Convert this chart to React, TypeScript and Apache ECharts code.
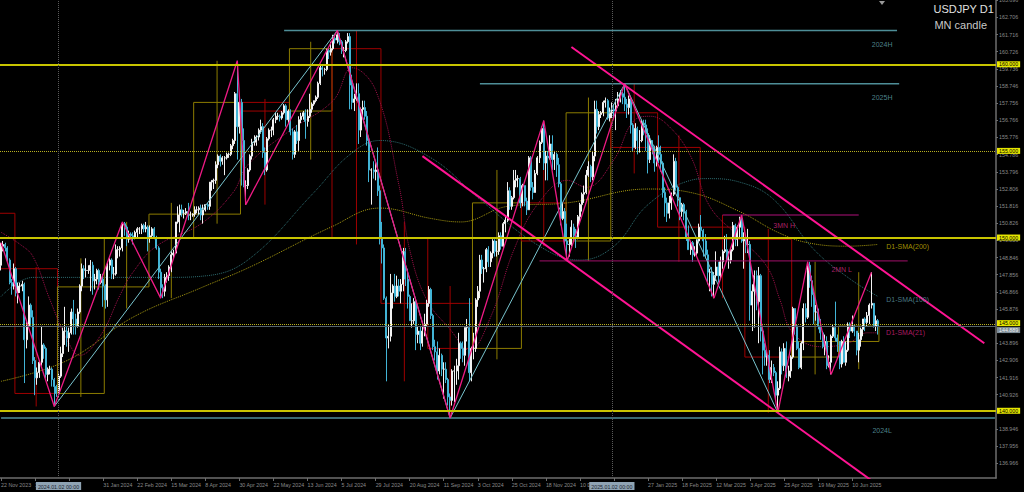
import React, { useEffect, useRef } from "react";
import * as echarts from "echarts";

// ---------- daily bars [open, high, low, close] per calendar month ----------
const nov23 = [
  [148.4,149.7,148.1,149.5],[149.5,149.8,149.2,149.6],[149.6,149.7,149.2,149.4],[149.4,149.5,148.6,148.7],
  [148.7,148.8,147.3,147.4],[147.4,147.6,146.7,147.2],[147.2,148.5,147.0,148.2]];
const dec23 = [
  [148.2,148.3,146.6,146.8],[146.8,147.4,146.2,147.2],[147.2,147.4,146.8,147.2],[147.2,147.5,146.9,147.3],
  [147.3,147.4,141.6,144.1],[144.1,145.2,143.6,144.9],[144.9,146.6,144.8,146.1],[146.1,146.2,144.9,145.4],
  [145.4,145.8,142.7,142.9],[142.9,143.1,140.9,141.9],[141.9,142.5,141.5,142.2],[142.2,142.9,141.9,142.8],
  [142.8,144.9,142.6,143.8],[143.8,143.9,143.0,143.6],[143.6,143.7,141.9,142.1],[142.1,142.5,141.7,142.4],
  [142.4,142.6,142.1,142.4],[142.4,142.5,141.4,141.8],[141.8,141.9,140.3,141.4],[141.4,141.5,140.8,141.0]];
const jan24 = [
  [141.0,142.2,140.8,142.0],[142.0,143.7,141.9,143.3],[143.3,144.8,143.1,144.6],[144.6,146.0,143.8,144.6],
  [144.6,144.9,143.7,144.2],[144.2,144.8,143.4,144.5],[144.5,145.9,144.4,145.7],[145.7,146.4,144.4,145.3],
  [145.3,145.6,144.4,144.9],[144.9,145.9,144.8,145.7],[145.7,147.3,145.6,147.2],[147.2,148.5,146.9,148.2],
  [148.2,148.4,147.6,148.1],[148.1,148.8,147.7,148.1],[148.1,148.4,147.9,148.1],[148.1,148.7,146.9,148.4],
  [148.4,148.6,146.7,147.5],[147.5,147.9,147.0,147.6],[147.6,148.2,147.3,148.1],[148.1,148.2,147.0,147.4],
  [147.4,147.9,147.3,147.6],[147.6,147.9,146.0,147.2]];
const feb24 = [
  [147.2,147.3,145.9,146.4],[146.4,148.6,146.0,148.4],[148.4,148.8,148.1,148.7],[148.7,148.8,147.6,147.9],
  [147.9,148.3,147.6,147.9],[147.9,149.6,147.8,149.3],[149.3,149.5,148.8,149.3],[149.3,149.5,148.9,149.4],
  [149.4,150.9,149.2,150.8],[150.8,150.9,150.1,150.6],[150.6,150.7,149.5,149.9],[149.9,150.4,149.7,150.2],
  [150.2,150.3,149.9,150.1],[150.1,150.3,149.6,150.0],[150.0,150.4,149.9,150.3],[150.3,150.6,150.0,150.5],
  [150.5,150.6,150.2,150.5],[150.5,150.8,150.2,150.7],[150.7,150.8,150.3,150.5],[150.5,150.9,150.3,150.6],
  [150.6,150.7,149.2,150.0]];
const mar24 = [
  [150.0,150.7,149.7,150.1],[150.1,150.6,150.0,150.5],[150.5,150.6,149.9,150.0],[150.0,150.1,149.3,149.4],
  [149.4,149.5,147.6,148.0],[148.0,148.2,146.5,147.1],[147.1,147.3,146.5,146.9],[146.9,147.9,146.6,147.7],
  [147.7,148.0,147.4,147.8],[147.8,148.4,147.5,148.3],[148.3,149.2,148.0,149.0],[149.0,149.3,148.8,149.1],
  [149.1,150.9,149.1,150.9],[150.9,151.8,150.8,151.3],[151.3,151.9,150.3,151.6],[151.6,151.9,151.2,151.4],
  [151.4,151.6,151.1,151.4],[151.4,151.7,151.3,151.5],[151.5,152.0,151.0,151.3],[151.3,151.5,151.0,151.3],
  [151.3,151.4,151.2,151.35]];
const apr24 = [
  [151.35,151.8,151.2,151.6],[151.6,151.8,151.4,151.6],[151.6,151.8,151.3,151.7],[151.7,151.9,151.0,151.3],
  [151.3,151.9,150.8,151.6],[151.6,151.9,151.5,151.9],[151.9,152.0,151.6,151.8],[151.8,153.2,151.6,153.2],
  [153.2,153.3,152.7,153.3],[153.3,153.4,152.8,153.3],[153.3,154.4,153.1,154.2],[154.2,154.8,154.0,154.7],
  [154.7,154.8,154.1,154.4],[154.4,154.7,154.2,154.6],[154.6,154.7,153.6,154.6],[154.6,154.9,154.5,154.8],
  [154.8,154.9,154.6,154.8],[154.8,155.4,154.7,155.3],[155.3,155.7,155.1,155.6],[155.6,158.4,155.4,158.3],
  [158.3,160.2,154.5,156.4],[156.4,157.9,156.0,157.8]];
const may24 = [
  [157.8,158.0,153.0,155.6],[155.6,156.3,152.9,153.0],[153.0,153.3,151.9,153.0],[153.0,154.0,152.8,153.9],
  [153.9,154.8,153.8,154.7],[154.7,155.7,154.5,155.5],[155.5,155.9,155.3,155.5],[155.5,155.9,155.3,155.8],
  [155.8,156.3,155.6,156.2],[156.2,156.8,156.0,156.4],[156.4,156.6,154.6,154.9],[154.9,155.2,153.6,153.9],
  [153.9,155.8,153.8,155.7],[155.7,156.3,155.6,156.2],[156.2,156.4,155.8,156.2],[156.2,156.9,155.9,156.8],
  [156.8,157.2,156.6,157.0],[157.0,157.2,156.8,157.0],[157.0,157.1,156.7,156.9],[156.9,157.3,156.8,157.2],
  [157.2,157.7,157.1,157.6],[157.6,157.7,156.4,156.8],[156.8,157.4,156.6,157.3]];
const jun24 = [
  [157.3,157.4,155.9,156.1],[156.1,156.3,154.5,154.8],[154.8,156.2,154.6,156.1],[156.1,156.5,155.4,155.6],
  [155.6,157.0,155.0,156.8],[156.8,157.2,156.6,157.0],[157.0,157.3,156.8,157.2],[157.2,157.4,155.7,156.7],
  [156.7,157.4,156.4,157.0],[157.0,158.3,156.9,157.4],[157.4,157.8,157.2,157.7],[157.7,157.9,157.6,157.9],
  [157.9,158.2,157.8,158.1],[158.1,159.0,158.0,158.9],[158.9,159.9,158.8,159.8],[159.8,159.9,159.3,159.7],
  [159.7,159.8,159.4,159.7],[159.7,160.9,159.6,160.8],[160.8,160.9,160.3,160.7],[160.7,161.3,160.5,160.9]];
const jul24 = [
  [160.9,161.7,160.8,161.5],[161.5,161.7,161.2,161.4],[161.4,161.95,161.2,161.7],[161.7,161.8,161.1,161.3],
  [161.3,161.4,160.6,160.8],[160.8,161.0,160.4,160.8],[160.8,161.4,160.7,161.3],[161.3,161.8,161.2,161.6],
  [161.6,161.8,157.4,158.8],[158.8,159.4,157.4,157.8],[157.8,158.3,157.3,158.0],[158.0,158.9,157.9,158.3],
  [158.3,158.9,155.4,156.2],[156.2,157.5,155.8,157.4],[157.4,157.9,157.0,157.5],[157.5,157.9,156.8,157.0],
  [157.0,157.3,155.3,155.6],[155.6,155.7,153.2,153.9],[153.9,154.0,151.9,153.9],[153.9,154.4,153.4,153.8],
  [153.8,154.3,153.3,153.9],[153.9,155.2,152.4,152.7],[152.7,153.0,149.6,150.0]];
const aug24 = [
  [150.0,150.9,148.5,149.4],[149.4,149.6,146.4,146.5],[146.5,146.6,141.7,144.2],[144.2,145.0,143.6,144.3],
  [144.3,147.9,144.0,146.8],[146.8,147.3,145.9,147.2],[147.2,147.9,146.3,146.6],[146.6,147.8,146.5,147.2],
  [147.2,147.6,146.6,146.9],[146.9,147.6,146.2,147.3],[147.3,149.4,146.9,149.2],[149.2,149.4,147.2,147.6],
  [147.6,148.2,145.9,146.6],[146.6,146.7,145.2,145.2],[145.2,146.2,144.8,145.2],[145.2,146.5,145.0,146.3],
  [146.3,146.5,143.5,144.4],[144.4,144.9,143.9,144.6],[144.6,144.9,143.5,143.9],[143.9,144.9,143.7,144.6],
  [144.6,145.6,144.3,145.0],[145.0,146.4,144.9,146.2]];
const sep24 = [
  [146.2,147.2,146.0,147.0],[147.0,147.1,145.3,145.5],[145.5,145.6,143.5,143.7],[143.7,144.1,142.9,143.4],
  [143.4,144.0,141.8,142.3],[142.3,143.6,142.1,143.2],[143.2,143.3,142.0,142.4],[142.4,142.8,140.7,142.4],
  [142.4,142.8,141.6,141.8],[141.8,141.9,140.3,140.8],[140.8,141.0,139.6,140.6],[140.6,142.4,140.3,142.3],
  [142.3,142.6,140.5,142.3],[142.3,143.0,141.5,142.6],[142.6,144.5,141.8,143.9],[143.9,144.0,143.0,143.6],
  [143.6,144.0,142.8,143.2],[143.2,144.8,142.6,144.8],[144.8,145.3,144.0,144.8],[144.8,146.5,141.7,142.2],
  [142.2,143.7,141.7,143.6]];
const oct24 = [
  [143.6,144.5,142.97,143.6],[143.6,146.5,143.4,146.4],[146.4,147.2,146.0,146.9],[146.9,149.0,146.5,148.7],
  [148.7,149.0,147.9,148.2],[148.2,148.3,147.4,148.2],[148.2,149.4,148.0,149.3],[149.3,149.5,148.3,148.6],
  [148.6,149.2,148.3,149.1],[149.1,149.9,148.8,149.8],[149.8,149.9,148.9,149.2],[149.2,149.8,148.9,149.2],
  [149.2,150.3,149.0,150.1],[150.1,150.3,149.3,149.5],[149.5,150.9,149.4,150.8],[150.8,151.2,150.3,151.0],
  [151.0,153.2,150.9,152.7],[152.7,152.9,151.6,151.8],[151.8,152.4,151.6,152.3],[152.3,153.9,152.2,153.3],
  [153.3,153.9,152.9,153.4],[153.4,153.6,152.9,153.4],[153.4,153.5,151.7,152.0]];
const nov24 = [
  [152.0,153.1,151.8,153.0],[153.0,153.0,151.8,152.1],[152.1,152.3,151.3,151.6],[151.6,154.7,151.6,154.6],
  [154.6,154.7,152.7,152.9],[152.9,153.2,152.2,152.6],[152.6,153.9,152.6,153.7],[153.7,154.7,153.6,154.6],
  [154.6,155.6,154.3,155.5],[155.5,156.4,155.4,156.3],[156.3,156.75,153.9,154.3],[154.3,155.0,153.3,154.7],
  [154.7,155.0,153.3,154.6],[154.6,155.9,154.5,155.4],[155.4,155.9,153.9,154.5],[154.5,155.0,153.9,154.8],
  [154.8,154.9,153.5,154.2],[154.2,154.6,152.9,153.1],[153.1,153.2,150.7,151.1],[151.1,152.0,151.0,151.5],
  [151.5,151.7,149.5,149.8]];
const dec24 = [
  [149.8,150.8,148.65,149.6],[149.6,150.0,148.9,149.6],[149.6,151.0,149.5,150.6],[150.6,150.8,149.8,150.1],
  [150.1,150.5,149.4,150.0],[150.0,151.3,149.9,151.2],[151.2,152.0,150.9,151.9],[151.9,152.6,151.5,152.5],
  [152.5,153.0,152.0,152.6],[152.6,153.9,152.5,153.6],[153.6,154.4,153.5,154.1],[154.1,154.2,153.2,153.5],
  [153.5,155.0,153.3,154.7],[154.7,157.9,154.4,157.4],[157.4,157.9,156.0,156.4],[156.4,157.3,156.2,157.1],
  [157.1,157.3,156.9,157.2],[157.2,157.9,157.0,157.8],[157.8,158.08,157.5,157.9],[157.9,158.0,156.8,156.9],
  [156.9,157.5,156.7,157.2]];
const jan25 = [
  [157.2,157.8,156.9,157.4],[157.4,157.7,156.9,157.3],[157.3,158.0,156.2,157.6],[157.6,158.4,157.5,158.0],
  [158.0,158.5,157.8,158.3],[158.3,158.4,157.7,158.1],[158.1,158.87,157.3,157.7],[157.7,158.0,156.9,157.5],
  [157.5,158.2,157.1,158.0],[158.0,158.1,156.0,156.5],[156.5,156.6,155.0,155.2],[155.2,156.6,155.1,156.3],
  [156.3,156.4,154.8,155.6],[155.6,156.2,154.9,155.6],[155.6,156.8,155.5,156.6],[156.6,156.8,155.9,156.5],
  [156.5,156.8,155.0,156.0],[156.0,156.3,153.7,154.5],[154.5,155.9,154.3,155.6],[155.6,155.6,154.8,155.2],
  [155.2,155.3,153.8,154.3],[154.3,155.3,154.1,155.2]];
const feb25 = [
  [155.2,155.9,154.3,154.8],[154.8,155.3,153.8,154.3],[154.3,154.4,152.3,152.6],[152.6,152.9,151.2,152.0],
  [152.0,152.3,150.9,151.4],[151.4,152.4,151.1,152.0],[152.0,152.6,151.6,152.5],[152.5,154.8,152.4,154.4],
  [154.4,154.6,152.7,152.9],[152.9,153.0,151.8,152.3],[152.3,152.3,151.0,151.5],[151.5,152.0,151.2,151.9],
  [151.9,152.0,151.0,151.5],[151.5,151.6,149.8,150.0],[150.0,150.7,149.3,149.3],[149.3,149.8,149.0,149.7],
  [149.7,149.8,148.6,149.0],[149.0,149.5,148.9,149.1],[149.1,149.9,148.9,149.8],[149.8,150.8,149.7,150.6]];
const mar25 = [
  [150.6,151.3,150.0,150.4],[150.4,150.5,148.9,149.8],[149.8,150.2,148.8,149.0],[149.0,149.3,147.3,148.0],
  [148.0,148.2,146.9,148.0],[148.0,148.3,146.6,147.3],[147.3,148.0,146.5,147.8],[147.8,149.2,147.5,148.3],
  [148.3,148.6,147.4,147.8],[147.8,148.9,147.6,148.6],[148.6,149.3,148.2,149.2],[149.2,150.1,149.1,149.3],
  [149.3,150.2,148.6,148.7],[148.7,149.2,148.2,148.7],[148.7,149.4,148.5,149.3],[149.3,150.9,149.2,150.7],
  [150.7,150.8,149.5,149.9],[149.9,150.7,149.5,150.6],[150.6,151.2,150.0,151.1],[151.1,151.3,149.7,149.8],
  [149.8,150.3,148.2,149.9]];
const apr25 = [
  [149.9,150.0,149.1,149.6],[149.6,150.5,149.1,149.6],[149.6,149.8,145.2,146.1],[146.1,147.3,144.6,146.9],
  [146.9,148.1,144.8,147.8],[147.8,148.1,145.8,146.3],[146.3,148.3,143.9,147.8],[147.8,147.9,144.0,144.6],
  [144.6,144.7,142.1,143.5],[143.5,143.9,142.6,143.1],[143.1,143.5,142.6,143.2],[143.2,143.5,141.6,141.8],
  [141.8,142.9,141.6,142.5],[142.5,142.7,142.0,142.2],[142.2,142.3,140.6,140.9],[140.9,141.7,139.89,141.3],
  [141.3,143.7,141.2,143.4],[143.4,143.6,142.1,142.6],[142.6,143.9,142.3,143.6],[143.6,144.0,141.9,142.0],
  [142.0,142.6,141.7,142.3],[142.3,143.2,141.9,143.1]];
const may25 = [
  [143.1,146.0,143.0,145.9],[145.9,145.9,144.4,144.9],[144.9,145.0,143.5,143.6],[143.6,144.0,142.4,142.5],
  [142.5,144.0,142.4,143.9],[143.9,146.2,143.5,145.9],[145.9,146.2,145.1,145.4],[145.4,148.6,145.3,148.4],
  [148.4,148.6,147.1,147.5],[147.5,147.8,146.0,146.7],[146.7,146.9,145.0,145.7],[145.7,146.1,145.2,145.7],
  [145.7,145.9,144.7,144.9],[144.9,145.3,144.1,144.5],[144.5,144.6,143.6,143.7],[143.7,144.4,143.2,144.0],
  [144.0,144.3,142.4,142.6],[142.6,143.2,142.5,142.8],[142.8,144.4,142.1,144.3],[144.3,145.0,144.2,144.8],
  [144.8,146.3,144.0,144.2],[144.2,144.4,143.4,144.0]];
const jun25 = [
  [144.0,144.0,142.4,142.7],[142.7,144.1,142.5,144.0],[144.0,144.3,142.8,142.8],[142.8,144.0,142.6,143.5],
  [143.5,145.1,143.4,144.9],[144.9,145.1,144.2,144.6],[144.6,145.5,144.5,144.9],[144.9,145.0,144.3,144.6],
  [144.6,144.6,143.2,143.5],[143.5,144.5,142.8,144.1],[144.1,144.8,143.7,144.7],[144.7,145.3,144.3,145.3],
  [145.3,145.4,144.6,145.1],[145.1,145.7,144.9,145.5],[145.5,146.2,145.0,146.1],[146.1,148.0,145.9,146.2],
  [146.2,146.2,144.8,144.9],[144.9,145.5,144.6,145.2],[145.2,145.3,144.4,144.889]];

const monthBars = [nov23, dec23, jan24, feb24, mar24, apr24, may24, jun24, jul24, aug24, sep24, oct24,
  nov24, dec24, jan25, feb25, mar25, apr25, may25, jun25];

// monthly candles (MN) [open, high, low, close]
const mnCandles = [
  [151.4,151.9,146.7,148.2],[148.2,148.3,140.25,141.0],[141.0,148.8,140.8,147.15],[147.15,150.9,145.9,150.0],
  [150.0,152.0,146.5,151.35],[151.35,160.2,150.8,157.8],[157.8,158.0,151.9,157.3],[157.3,161.3,154.5,160.9],
  [160.9,161.95,149.6,150.0],[150.0,150.9,141.7,146.2],[146.2,147.2,139.58,143.6],[143.6,153.9,142.97,152.0],
  [152.0,156.75,149.5,149.8],[149.8,158.08,148.65,157.2],[157.2,158.87,153.7,155.2],[155.2,155.9,148.6,150.6],
  [150.6,151.3,146.5,149.9],[149.9,150.5,139.89,143.1],[143.1,148.6,142.1,144.0],[144.0,148.0,142.4,144.889]];
const firstMonthHiddenBars = 15; // Nov 2023 trading days before the first visible bar

// moving averages [bar index, price]
const sma200 = [[0,141.7],[31,142.9],[62,145.4],[94,147.1],[117,148.3],[155,150.6],[178,151.7],[202,151.1],
  [216,150.9],[238,151.8],[266,152.0],[304,152.8],[324,152.6],[347,151.5],[365,150.3],[379,149.7],[398,149.5],[412,149.6]];
const sma100 = [[0,146.6],[15,147.7],[38,147.7],[78,147.7],[97,147.8],[117,148.8],[147,152.6],[164,154.8],
  [178,155.6],[202,154.6],[225,152.2],[253,149.5],[272,148.7],[288,149.5],[304,151.9],[324,153.3],[332,153.4],
  [347,153.2],[363,152.2],[382,149.3],[399,147.6],[412,146.6]];
const sma21 = [[0,150.3],[9,149.6],[15,148.9],[23,146.4],[31,144.1],[37,143.2],[47,144.4],[56,146.7],[62,148.0],
  [73,149.5],[94,150.8],[109,152.6],[116,154.2],[136,156.2],[156,157.9],[165,159.8],[176,158.5],[187,153.0],
  [192,149.3],[200,146.4],[211,144.7],[220,143.5],[230,145.4],[241,149.3],[252,151.9],[266,153.3],[275,152.9],
  [288,154.5],[297,156.7],[305,157.0],[314,156.4],[324,154.7],[333,151.8],[347,150.0],[360,148.3],[366,146.4],
  [372,144.5],[385,143.7],[398,143.9],[407,144.5],[412,144.5]];

// zigzags and drawn objects [bar index, price]
const pinkZig = [[0,149.7],[25,140.25],[57,150.9],[75,146.5],[111,160.2],[115,151.9],[158,161.95],[211,139.58],
  [255,156.75],[266,148.65],[293,158.87],[335,146.5],[348,151.3],[365,139.89],[379,148.6],[390,142.1],[409,148.0]];
const cyanZig = [[25,140.25],[158,161.95],[211,139.58],[293,158.87],[365,139.89]];
const channelUpper = [[268,161.0],[462,143.9]];
const channelLower = [[198,154.7],[411,135.8]];
const line2024H = [[133,161.95],[421,161.95]];
const line2025H = [[225,158.87],[422,158.87]];
const line2024L = [[0,139.58],[467,139.58]];
const line3MNH = [[339,151.3],[403,151.3]];
const line2MNL = [[253,148.65],[426,148.65]];

// price-scale labels (those fully covered by the 144.889 / 140.000 boxes are not drawn)
const yTicks = [163.696,162.706,161.716,160.726,159.736,158.746,157.756,156.766,155.776,154.786,153.796,152.806,
  151.816,150.826,149.836,148.846,147.856,146.866,145.876,143.896,142.906,141.916,140.926,
  138.946,137.956,136.966];
const levels = [160, 155, 150, 145, 140];
const currentPrice = 144.889;
const separators = ["2024-01-02", "2025-01-02"];

const textMarks = [
  { text: "2024H", x: 414, y: 161.17, color: "#62A4AE" },
  { text: "2025H", x: 414, y: 158.11, color: "#62A4AE" },
  { text: "2024L", x: 414, y: 138.89, color: "#62A4AE" },
  { text: "D1-SMA(200)", x: 426, y: 149.51, color: "#C8B400" },
  { text: "D1-SMA(100)", x: 426, y: 146.45, color: "#5E98A4" },
  { text: "D1-SMA(21)", x: 425, y: 144.49, color: "#D4207E" },
  { text: "3MN H", x: 368, y: 150.72, color: "#D42A80" },
  { text: "2MN L", x: 395, y: 148.18, color: "#D42A80" },
];

const TOTAL_SLOTS = 468;
const MONTHS = ["Jan","Feb","Mar","Apr","May","Jun","Jul","Aug","Sep","Oct","Nov","Dec"];
const FONT = "Liberation Sans";

function tradingDays(count: number): string[] {
  const out: string[] = [];
  const d = new Date(Date.UTC(2023, 10, 22));
  while (out.length < count) {
    const wd = d.getUTCDay();
    const m = d.getUTCMonth() + 1;
    const day = d.getUTCDate();
    const closed = (m === 12 && day === 25) || (m === 1 && day === 1);
    if (wd !== 0 && wd !== 6 && !closed) {
      out.push(`${d.getUTCFullYear()}-${String(m).padStart(2, "0")}-${String(day).padStart(2, "0")}`);
    }
    d.setUTCDate(d.getUTCDate() + 1);
  }
  return out;
}

export default function App() {
  const ref = useRef<HTMLDivElement>(null);
  useEffect(() => {
    if (!ref.current) return;
    document.body.style.margin = "0";
    document.body.style.background = "#000";
    const chart = echarts.init(ref.current, null, { renderer: "svg" });

    const bars = monthBars.flat();
    const nBars = bars.length;
    const dates = tradingDays(nBars);
    const categories = [...dates];
    for (let i = nBars; i < TOTAL_SLOTS; i++) categories.push(`+${i - nBars + 1}`);
    const ohlc = bars.map(([o, h, l, c]) => [o, c, l, h]);

    const boxes: number[][] = [];
    let cursor = 0;
    monthBars.forEach((m, i) => {
      const start = i === 0 ? -firstMonthHiddenBars : cursor;
      const end = cursor + m.length - 1;
      boxes.push([start, end, ...mnCandles[i]]);
      cursor += m.length;
    });

    const sepIdx = separators.map((s) => dates.indexOf(s));
    const fmtDate = (v: string) => {
      if (!v || v[0] === "+") return "";
      const [y, m, d] = v.split("-");
      return `${+d} ${MONTHS[+m - 1]} ${y}`;
    };
    // labels fully hidden under the separator date boxes are skipped
    const showIdx = (i: number) =>
      i % 16 === 0 && i < nBars && !sepIdx.some((s) => i > s - 12 && i < s + 6 && i !== s - 11);

    const lineSeries = (data: number[][], color: string, width: number, type: any = "solid", z = 4, smooth: any = false) => ({
      type: "line", data, symbol: "none", showSymbol: false, smooth, silent: true, z,
      lineStyle: { color, width, type }, clip: true,
    });

    const yellowLabel = (txt: string) => ({
      show: true, position: "end", formatter: txt, backgroundColor: "#E6E600", color: "#000",
      fontSize: 5.3, fontFamily: FONT, padding: [1, 2, 0, 2], distance: 1,
    });

    const markData: any[] = levels.map((v) => ({
      yAxis: v,
      lineStyle: {
        color: v === 155 || v === 145 ? "#B8B020" : "#C8C400",
        width: v === 155 || v === 145 ? 1 : 2,
        type: v === 155 || v === 145 ? "dotted" : "solid",
      },
      label: { ...yellowLabel(v.toFixed(3)), offset: v === 145 ? [0, -1] : [0, 0] },
    }));
    markData.push({
      yAxis: currentPrice,
      lineStyle: { color: "#56646C", width: 1, type: "solid" },
      label: {
        show: true, position: "end", formatter: currentPrice.toFixed(3), backgroundColor: "#7F8E99", color: "#F0F0F0",
        fontSize: 5.3, fontFamily: FONT, padding: [1, 2, 0, 2], distance: 1, offset: [0, 4],
      },
    });
    separators.forEach((s) => {
      const [y, m, d] = s.split("-");
      markData.push({
        xAxis: s,
        lineStyle: { color: "#5A5A5A", width: 1, type: "dotted" },
        label: {
          show: true, position: "start", formatter: `${y}.${m}.${d} 00:00`, backgroundColor: "#8FA3B3",
          color: "#1A2530", fontSize: 5.3, fontFamily: FONT, padding: [2, 2, 1, 2], distance: 4,
        },
      });
    });

    chart.setOption({
      animation: false,
      backgroundColor: "#000000",
      grid: { left: 0, right: 28, top: 0, bottom: 14, containLabel: false, outerBoundsMode: "none" },
      xAxis: {
        type: "category", data: categories, boundaryGap: true,
        axisLine: { show: true, lineStyle: { color: "#6E6E6E", width: 1.5 } },
        axisTick: { show: true, alignWithLabel: true, length: 3, interval: (i: number) => i % 16 === 0 && i < nBars, lineStyle: { color: "#6E6E6E" } },
        axisLabel: {
          interval: (i: number) => showIdx(i), formatter: (v: string) => fmtDate(v), align: "left",
          color: "#8A8A8A", fontSize: 5.3, fontFamily: FONT, margin: 4,
        },
        splitLine: { show: false },
      },
      yAxis: {
        type: "value", position: "right", min: 136.12, max: 163.71, scale: true,
        axisLine: { show: true, lineStyle: { color: "#6E6E6E", width: 1.5 } },
        axisTick: { show: true, length: 2, customValues: yTicks, lineStyle: { color: "#6E6E6E" } },
        axisLabel: {
          customValues: yTicks, formatter: (v: number) => v.toFixed(3), color: "#8A8A8A",
          fontSize: 5.3, fontFamily: FONT, margin: 3,
        },
        splitLine: { show: false },
      },
      graphic: [
        { type: "text", right: 30, top: 3, style: { text: "USDJPY D1", fill: "#E0E0E0", font: `11px "${FONT}"` } },
        { type: "text", right: 37, top: 19, style: { text: "MN candle", fill: "#C8C8C8", font: `11px "${FONT}"` } },
        { type: "polygon", shape: { points: [[879, 1], [885, 1], [882, 5]] }, style: { fill: "#9A9A9A" } },
      ],
      series: [
        {
          type: "custom", data: boxes, encode: { x: 0, y: 2 }, z: 1, silent: true,
          renderItem: (params: any, api: any) => {
            const s = api.value(0), e = api.value(1), o = api.value(2), h = api.value(3), l = api.value(4), c = api.value(5);
            const w = api.size([1, 0])[0];
            const ps = api.coord([s, o]);
            const pe = api.coord([e, c]);
            const x0 = ps[0] - w / 2;
            const x1 = pe[0] + w / 2;
            const xm = (x0 + x1) / 2;
            const yH = api.coord([s, h])[1];
            const yL = api.coord([s, l])[1];
            const color = c >= o ? "#8C7C00" : "#9E0000";
            return {
              type: "group",
              children: [
                { type: "line", shape: { x1: xm, y1: yH, x2: xm, y2: yL }, style: { stroke: color, lineWidth: 1 } },
                {
                  type: "rect",
                  shape: { x: x0, y: Math.min(ps[1], pe[1]), width: x1 - x0, height: Math.abs(pe[1] - ps[1]) },
                  style: { fill: "none", stroke: color, lineWidth: 1 },
                },
              ],
            };
          },
        },
        lineSeries(sma200, "#A89A10", 1, "dotted", 2, 0.4),
        lineSeries(sma100, "#2E6E72", 1, "dotted", 2, 0.4),
        lineSeries(sma21, "#A0104A", 1, "dotted", 2, 0.4),
        {
          type: "candlestick", data: ohlc, barWidth: 1.5, z: 3, silent: true,
          itemStyle: { color: "#F2F2F2", color0: "#42B4D6", borderColor: "#F2F2F2", borderColor0: "#42B4D6", borderWidth: 1 },
          markLine: { symbol: ["none", "none"], silent: true, animation: false, precision: 3, data: markData },
        },
        lineSeries(line2024H, "#4E8E98", 1.5),
        lineSeries(line2025H, "#4E8E98", 1.5),
        lineSeries(line2024L, "#4E8E98", 1.5),
        lineSeries(line3MNH, "#B0107A", 1),
        lineSeries(line2MNL, "#A0106A", 1),
        lineSeries(cyanZig, "#78C4CE", 1),
        lineSeries(pinkZig, "#EE1A84", 1.3),
        lineSeries(channelUpper, "#FF1493", 2),
        lineSeries(channelLower, "#FF1493", 2),
        {
          type: "scatter", z: 6, silent: true, symbolSize: 1,
          itemStyle: { color: "rgba(0,0,0,0)" },
          data: textMarks.map((t) => ({
            value: [t.x, t.y],
            label: { show: true, position: "inside", formatter: t.text, color: t.color, fontSize: 7, fontFamily: FONT },
          })),
        },
      ],
    });
    return () => chart.dispose();
  }, []);
  return <div ref={ref} style={{ position: "fixed", left: 0, top: 0, width: 1024, height: 492, background: "#000" }} />;
}
